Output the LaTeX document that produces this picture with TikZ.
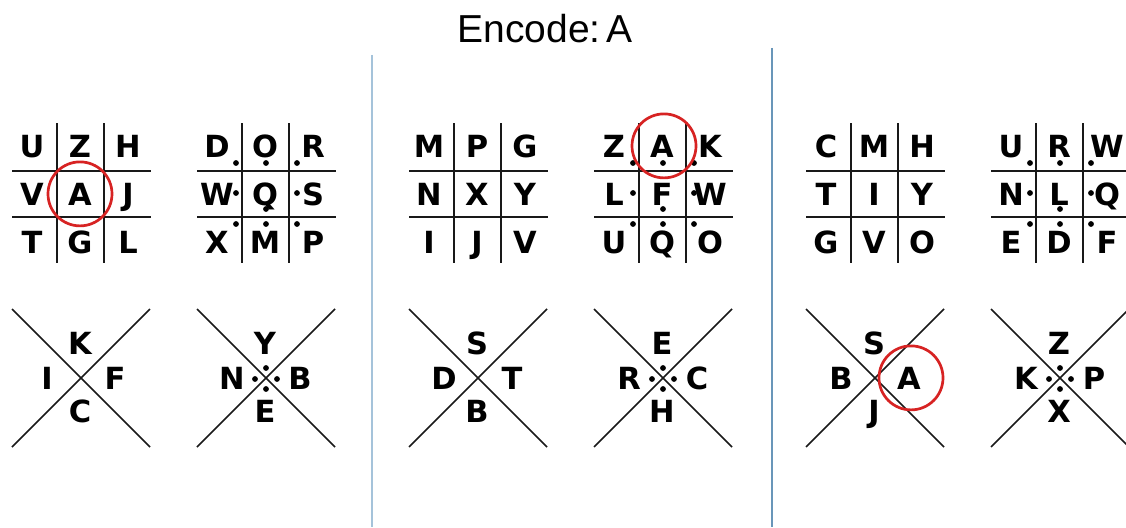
\documentclass[tikz,border=0pt]{standalone}
\usepackage{fontspec}
\newfontfamily\lfont{DejaVu Sans}
\newfontfamily\tfont{Liberation Sans}
\definecolor{redc}{RGB}{215,35,35}
\definecolor{divA}{RGB}{165,195,218}
\definecolor{divB}{RGB}{105,150,185}
\tikzset{
  lt/.style={font=\lfont\bfseries\fontsize{30.5}{30.5}\selectfont, inner sep=0pt, anchor=base},
  gl/.style={line width=1.9pt, black!90},
  xl/.style={line width=1.5pt, black!90},
  rc/.style={line width=2.7pt, draw=redc},
  divline/.style={line width=1.3pt},
}
% 3x3 grid with letters
\newcommand\pgrid[2]{%
  \foreach \l [count=\i from 0] in {#2}{%
    \pgfmathtruncatemacro\cc{mod(\i,3)}%
    \pgfmathtruncatemacro\rr{div(\i,3)}%
    \node[lt] (#1\i) at ({32+48*\cc},{157+48*\rr}) {\l};
  }
  \draw[gl] (57,123) -- (57,263) (104,123) -- (104,263)
            (12,171) -- (151,171) (12,217) -- (151,217);
}
\newcommand\pgdots{%
  \foreach \px/\py in {51/163,81/163,112/163,51/193,81/209,112/193,51/224,81/224,112/224}
    \fill (\px,\py) circle (2.9pt);
}
% X shape with four letters: top, left, right, bottom
\newcommand\pcross[5]{%
  \draw[xl] (12,309) -- (150,447) (150,309) -- (12,447);
  \node[lt] (#1t) at (80,354) {#2};
  \node[lt] (#1l) at (47,389) {#3};
  \node[lt] (#1r) at (115,389) {#4};
  \node[lt] (#1b) at (80,422) {#5};
}
\newcommand\pxdots{%
  \foreach \px/\py in {81/368,70/379,92/379,81/389}
    \fill (\px,\py) circle (2.9pt);
}
\begin{document}
\begin{tikzpicture}[x=1pt,y=-1pt]
\useasboundingbox (0,0) rectangle (1126,527);
\clip (0,0) rectangle (1126,527);
\fill[white] (0,0) rectangle (1126,527);
\node[font=\tfont\fontsize{39}{39}\selectfont, inner sep=0pt, anchor=base] (title) at (545,42) {Encode:\hspace{0.15em}A};
\coordinate (d1t) at (372,55); \coordinate (d1b) at (372,527);
\coordinate (d2t) at (772,48); \coordinate (d2b) at (772,527);
\draw[divline, divA] (d1t) -- (d1b);
\draw[divline, divB] (d2t) -- (d2b);
% panel 1
\begin{scope}
  \pgrid{p1a}{U,Z,H,V,A,J,T,G,L}
  \begin{scope}[xshift=185pt]\pgrid{p1b}{D,O,R,W,Q,S,X,M,P}\pgdots\end{scope}
  \pcross{p1c}{K}{I}{F}{C}
  \begin{scope}[xshift=185pt]\pcross{p1d}{Y}{N}{B}{E}\pxdots\end{scope}
  \draw[rc] (p1a4.center) circle (32pt);
\end{scope}
% panel 2
\begin{scope}[xshift=397pt]
  \pgrid{p2a}{M,P,G,N,X,Y,I,J,V}
  \begin{scope}[xshift=185pt]\pgrid{p2b}{Z,A,K,L,F,W,U,Q,O}\pgdots\end{scope}
  \pcross{p2c}{S}{D}{T}{B}
  \begin{scope}[xshift=185pt]\pcross{p2d}{E}{R}{C}{H}\pxdots\end{scope}
  \draw[rc] ([xshift=2pt]p2b1.center) circle (32pt);
\end{scope}
% panel 3
\begin{scope}[xshift=794pt]
  \pgrid{p3a}{C,M,H,T,I,Y,G,V,O}
  \begin{scope}[xshift=185pt]\pgrid{p3b}{U,R,W,N,L,Q,E,D,F}\pgdots\end{scope}
  \pcross{p3c}{S}{B}{A}{J}
  \begin{scope}[xshift=185pt]\pcross{p3d}{Z}{K}{P}{X}\pxdots\end{scope}
  \draw[rc] ([xshift=2pt]p3cr.center) circle (32pt);
\end{scope}
\end{tikzpicture}
\end{document}
